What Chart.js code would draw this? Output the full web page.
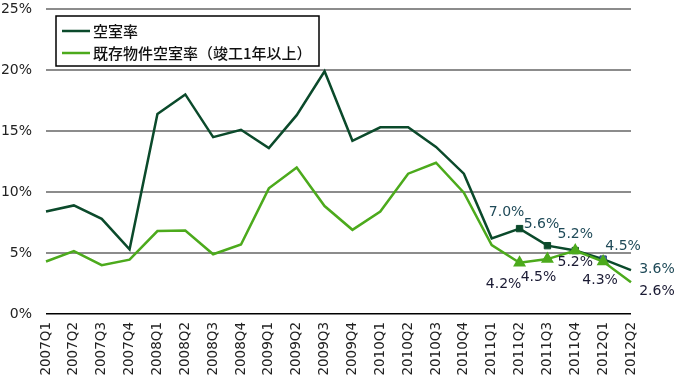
<!DOCTYPE html>
<html>
<head>
<meta charset="utf-8">
<script src="https://cdn.jsdelivr.net/npm/chart.js@4.4.1/dist/chart.umd.min.js"></script>
<style>
  html, body { margin: 0; padding: 0; background: #fff; }
  #wrap { width: 680px; height: 380px; position: relative; }
</style>
</head>
<body>
<div id="wrap"><canvas id="c" width="680" height="380"></canvas></div>
<script>
const categories = ['2007Q1','2007Q2','2007Q3','2007Q4','2008Q1','2008Q2','2008Q3','2008Q4','2009Q1','2009Q2','2009Q3','2009Q4','2010Q1','2010Q2','2010Q3','2010Q4','2011Q1','2011Q2','2011Q3','2011Q4','2012Q1','2012Q2'];
const seriesNames = ['空室率', '既存物件空室率（竣工1年以上）'];
const vacancyRate = [8.4, 8.9, 7.8, 5.3, 16.4, 18.0, 14.5, 15.1, 13.6, 16.3, 19.9, 14.2, 15.3, 15.3, 13.7, 11.5, 6.2, 7.0, 5.6, 5.2, 4.5, 3.6];
const existingVacancyRate = [4.3, 5.15, 4.0, 4.45, 6.8, 6.85, 4.9, 5.7, 10.3, 12.0, 8.85, 6.9, 8.4, 11.5, 12.4, 9.95, 5.65, 4.2, 4.5, 5.2, 4.3, 2.6];
const yTicks = [0, 5, 10, 15, 20, 25];
const markedFrom = 17, markedTo = 20;   // 2011Q2 .. 2012Q1 have markers
const labelFrom = 17;                    // labels from 2011Q2 onwards

const NUM_FONT = 'DejaVu Sans';
const CJK_FONT = '"Noto Sans CJK JP"';

const pointLabels = {
  id: 'pointLabels',
  afterDatasetsDraw(chart, args, opts) {
    const ctx = chart.ctx;
    ctx.save();
    ctx.font = '14px ' + NUM_FONT;
    ctx.textAlign = 'center';
    ctx.textBaseline = 'middle';
    chart.data.datasets.forEach((ds, di) => {
      const meta = chart.getDatasetMeta(di);
      ctx.fillStyle = opts.colors[di];
      for (let i = labelFrom; i < ds.data.length; i++) {
        const p = meta.data[i];
        const off = opts.offsets[di][i - labelFrom];
        ctx.fillText(ds.data[i].toFixed(1) + '%', p.x + off[0], p.y + off[1]);
      }
    });
    ctx.restore();
  }
};

const boxLegend = {
  id: 'boxLegend',
  afterDraw(chart, args, opts) {
    const ctx = chart.ctx;
    ctx.save();
    ctx.fillStyle = '#fff';
    ctx.fillRect(opts.x, opts.y, opts.w, opts.h);
    ctx.strokeStyle = '#000';
    ctx.lineWidth = 1.5;
    ctx.strokeRect(opts.x, opts.y, opts.w, opts.h);
    ctx.font = '500 15px ' + CJK_FONT;
    ctx.textBaseline = 'middle';
    ctx.textAlign = 'left';
    chart.data.datasets.forEach((ds, di) => {
      const yy = opts.y + opts.rowTop + di * opts.rowGap;
      ctx.strokeStyle = ds.borderColor;
      ctx.lineWidth = 2.5;
      ctx.beginPath();
      ctx.moveTo(opts.x + 6, yy);
      ctx.lineTo(opts.x + 34, yy);
      ctx.stroke();
      ctx.fillStyle = '#111';
      ctx.fillText(ds.label, opts.x + 37, yy);
    });
    ctx.restore();
  }
};

new Chart(document.getElementById('c'), {
  type: 'line',
  data: {
    labels: categories,
    datasets: [
      {
        label: seriesNames[0],
        data: vacancyRate,
        borderColor: '#0b4a2b',
        borderWidth: 2.5,
        tension: 0,
        pointStyle: 'rect',
        pointRadius: c => (c.dataIndex >= markedFrom && c.dataIndex <= markedTo) ? 4.5 : 0,
        pointBackgroundColor: c => c.dataIndex === markedTo ? '#4a78b8' : '#0b4a2b',
        pointBorderColor: c => c.dataIndex === markedTo ? '#1f3f6f' : '#0b4a2b',
        pointBorderWidth: 1,
        order: 2
      },
      {
        label: seriesNames[1],
        data: existingVacancyRate,
        borderColor: '#4caa1c',
        borderWidth: 2.5,
        tension: 0,
        pointStyle: 'triangle',
        pointRadius: c => (c.dataIndex >= markedFrom && c.dataIndex <= markedTo) ? 5 : 0,
        pointBackgroundColor: '#4caa1c',
        pointBorderColor: '#4caa1c',
        order: 1
      }
    ]
  },
  options: {
    responsive: false,
    animation: false,
    layout: { padding: { top: 9, right: 49, left: 0, bottom: 0 } },
    plugins: {
      legend: { display: false },
      tooltip: { enabled: false },
      pointLabels: {
        colors: ['#1f4a58', '#1a1a33'],
        offsets: [
          [[-13, -16], [-6, -21], [0, -16], [20, -13], [26, -1]],
          [[-16, 22], [-9, 18], [0, 12], [-3, 19], [26, 9]]
        ]
      },
      boxLegend: { x: 56, y: 16, w: 263, h: 50, rowTop: 15, rowGap: 22 }
    },
    scales: {
      x: {
        grid: { display: false, drawTicks: false },
        border: { display: false },
        ticks: {
          minRotation: 90, maxRotation: 90, autoSkip: false,
          padding: 8,
          color: '#222',
          font: { family: NUM_FONT, size: 13.5 }
        },
        afterFit: s => { s.height = 66; }
      },
      y: {
        min: 0, max: 25,
        afterBuildTicks: s => { s.ticks = yTicks.map(v => ({ value: v })); },
        grid: {
          drawTicks: false,
          color: c => c.tick && c.tick.value === 0 ? '#000' : '#8c8c8c',
          lineWidth: c => c.tick && c.tick.value === 0 ? 1.5 : 2
        },
        border: { display: false },
        ticks: {
          padding: 14,
          color: '#222',
          font: { family: NUM_FONT, size: 14 },
          callback: v => v + '%'
        },
        afterFit: s => { s.width = 46; s.paddingTop = 0; s.paddingBottom = 0; }
      }
    }
  },
  plugins: [pointLabels, boxLegend]
});
</script>
</body>
</html>
